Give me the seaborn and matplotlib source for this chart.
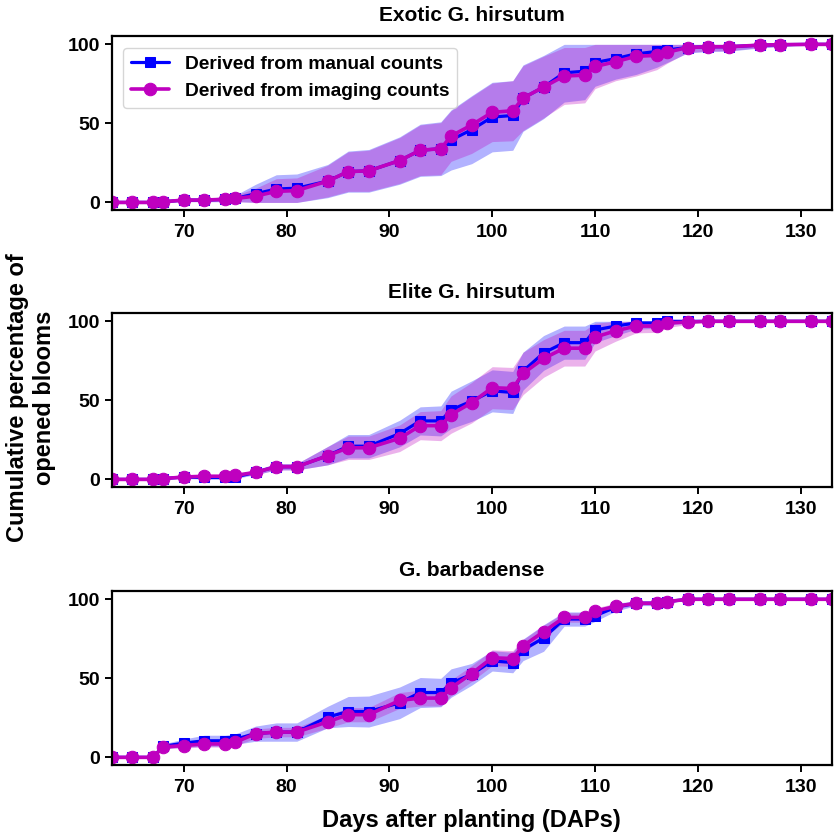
import numpy as np
import seaborn as sns
import matplotlib
matplotlib.use('Agg')
import matplotlib.pyplot as plt

# Days after planting at which blooms were counted
days = [63, 65, 67, 68, 70, 72, 74, 75, 77, 79, 81, 84, 86, 88, 91, 93, 95, 96, 98, 100,
        102, 103, 105, 107, 109, 110, 112, 114, 116, 117, 119, 121, 123, 126, 128, 131, 133]

# Exotic G. hirsutum
exotic_manual = [0, 0, 0, 0.4, 1.5, 1.5, 2, 2.5, 5.5, 8.5, 9, 13.5, 19.5, 20, 26.5, 33, 34, 39.5, 46, 54,
                 55, 66, 73, 82, 83, 88.5, 91, 94, 95.5, 96.5, 98, 98.5, 98.5, 99.5, 99.8, 100, 100]
exotic_manual_sd = [0, 0, 0, 0, 1, 1, 1.5, 2, 6, 9, 9, 10.5, 13, 13.5, 15, 16.5, 17, 19, 21.5, 22,
                    22, 21, 20, 18.5, 18, 15, 13, 13, 10, 8, 3.5, 3, 2.8, 1.8, 1.2, 0, 0]
exotic_imaging = [0, 0, 0, 0.4, 1.5, 1.5, 2, 2.5, 4, 7, 7.5, 13.5, 19.5, 20, 26.5, 33, 34, 42, 49, 57,
                  58, 66, 73, 80, 80.5, 86, 89, 92.5, 93, 95, 98, 98.5, 98.5, 99.5, 99.8, 100, 100]
exotic_imaging_sd = [0, 0, 0, 0, 1, 1, 1.5, 2, 5, 8, 8, 10, 12.5, 13, 14.5, 16, 16.5, 16, 18, 18.5,
                     19, 20.5, 19.5, 18, 17.5, 14, 12, 12.5, 9, 7, 3, 2.8, 2.5, 1.5, 1, 0, 0]

# Elite G. hirsutum
elite_manual = [0, 0, 0, 0.5, 1.5, 1.2, 1.2, 1.5, 4.5, 8, 8, 15, 21, 21, 29, 37, 37, 44, 49.5, 56,
                55, 68.5, 80, 86.5, 86.5, 94.5, 97, 99, 99, 100, 100, 100, 100, 100, 100, 100, 100]
elite_manual_sd = [0, 0, 0, 0, 1, 1, 1, 1, 1.5, 2, 2, 5.8, 7.4, 7.4, 8.4, 8.9, 9.5, 11.8, 12.8, 13.3,
                   13.3, 12, 11, 10.5, 10.5, 8, 6, 4, 3.5, 2.5, 1, 0, 0, 0, 0, 0, 0]
elite_imaging = [0, 0, 0, 0.5, 1.5, 2, 2, 2.5, 4.5, 8, 8, 15, 20, 20, 26, 34, 34, 41, 48.5, 58,
                 57.5, 67, 76.5, 83, 83, 90, 94, 97, 97, 99, 99.5, 100, 100, 100, 100, 100, 100]
elite_imaging_sd = [0, 0, 0, 0, 1, 1, 1, 1, 1.5, 2, 2, 5.8, 7.4, 7.4, 8.4, 8.9, 9.5, 11.8, 12.8, 13.3,
                    13.3, 13.4, 11.9, 11.3, 11.3, 8.8, 6.6, 4.3, 4, 3, 1.5, 0, 0, 0, 0, 0, 0]

# G. barbadense
barb_manual = [0, 0, 0, 7, 9, 10.5, 10.5, 11.5, 15, 16, 16, 25.5, 29, 29, 34.5, 41, 41, 47, 52.5, 61,
               60, 68, 75.5, 87.5, 87.5, 89.5, 95, 97.5, 97.5, 98.5, 100, 100, 100, 100, 100, 100, 100]
barb_manual_sd = [0, 0, 0, 1.5, 2.6, 3.5, 3.5, 3.3, 4.8, 5.8, 5.8, 6.8, 9.5, 9.8, 10, 9.5, 9, 9, 6.9, 6.4,
                  6.5, 6.8, 8.4, 4.5, 4.5, 3.5, 2.5, 1.5, 1.5, 1, 0, 0, 0, 0, 0, 0, 0]
barb_imaging = [0, 0, 0, 6.5, 7.5, 8.5, 8.5, 9.5, 15, 16, 16, 22.5, 27, 27, 36, 37.5, 37.5, 44, 53, 63,
                62.5, 70.5, 79.5, 88.5, 88.5, 92.5, 95.5, 97.5, 97.5, 98.5, 100, 100, 100, 100, 100, 100, 100]
barb_imaging_sd = [0, 0, 0, 1, 1.5, 2, 2, 2, 3, 3, 3, 4, 4.5, 4.5, 5, 5, 5, 5, 5, 5,
                   5, 4, 4, 3, 3, 2, 2, 1, 1, 1, 0, 0, 0, 0, 0, 0, 0]

titles = ['Exotic G. hirsutum', 'Elite G. hirsutum', 'G. barbadense']
panels = [
    (exotic_manual, exotic_manual_sd, exotic_imaging, exotic_imaging_sd),
    (elite_manual, elite_manual_sd, elite_imaging, elite_imaging_sd),
    (barb_manual, barb_manual_sd, barb_imaging, barb_imaging_sd),
]

sns.set_style('ticks')
plt.rcParams['font.family'] = ['Liberation Sans', 'DejaVu Sans']
plt.rcParams['font.weight'] = 'bold'
plt.rcParams['axes.titleweight'] = 'bold'
plt.rcParams['axes.labelweight'] = 'bold'
plt.rcParams['text.color'] = 'black'
plt.rcParams['axes.labelcolor'] = 'black'
plt.rcParams['xtick.color'] = 'black'
plt.rcParams['ytick.color'] = 'black'
plt.rcParams['axes.edgecolor'] = 'black'
plt.rcParams['axes.linewidth'] = 1.6
plt.rcParams['xtick.major.width'] = 1.4
plt.rcParams['ytick.major.width'] = 1.4
plt.rcParams['xtick.major.size'] = 5
plt.rcParams['ytick.major.size'] = 5

fig = plt.figure(figsize=(8.38, 8.38), dpi=100)
bottoms = [0.749, 0.4185, 0.0868]
axes = [fig.add_axes([0.1333, b, 0.859, 0.2075]) for b in bottoms]

x = np.array(days)
for ax, title, (man, man_sd, img, img_sd) in zip(axes, titles, panels):
    man = np.array(man)
    img = np.array(img)
    ax.fill_between(x, np.clip(man - np.array(man_sd), 0, 100), np.clip(man + np.array(man_sd), 0, 100),
                    color='blue', alpha=0.3, linewidth=0)
    ax.fill_between(x, np.clip(img - np.array(img_sd), 0, 100), np.clip(img + np.array(img_sd), 0, 100),
                    color='m', alpha=0.3, linewidth=0)
    sns.lineplot(x=x, y=man, ax=ax, color='blue', marker='s', markersize=6.5,
                 markeredgecolor='blue', linewidth=2.3, label='Derived from manual counts')
    sns.lineplot(x=x, y=img, ax=ax, color='m', marker='o', markersize=9,
                 markeredgecolor='m', linewidth=2.6, label='Derived from imaging counts')
    ax.set_xlim(63, 133)
    ax.set_ylim(-5, 105)
    ax.set_xticks([70, 80, 90, 100, 110, 120, 130])
    ax.set_yticks([0, 50, 100])
    ax.tick_params(labelsize=14)
    ax.tick_params(axis='x', pad=5)
    ax.set_title(title, fontsize=15, pad=11)
    ax.set_ylabel('')

axes[0].legend(loc='upper left', prop={'weight': 'bold', 'size': 13.8}, borderaxespad=0.6)
axes[1].get_legend().remove()
axes[2].get_legend().remove()
axes[2].set_xlabel('Days after planting (DAPs)', fontsize=17, labelpad=9)
fig.text(0.037, 0.525, 'Cumulative percentage of\nopened blooms', rotation=90,
         ha='center', va='center', fontsize=17, fontweight='bold', multialignment='center')

plt.savefig('out.png', dpi=100)
